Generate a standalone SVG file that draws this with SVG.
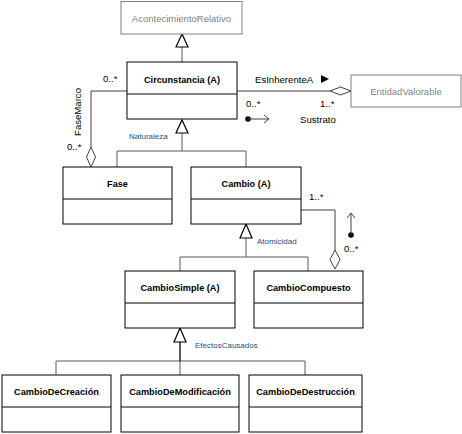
<svg xmlns="http://www.w3.org/2000/svg" width="462" height="434" viewBox="0 0 462 434">
<defs>
<style>
.box{fill:#fff;stroke:#000;stroke-width:1}
.gbox{fill:#fff;stroke:#7f7f7f;stroke-width:1}
.t{font-family:"Liberation Sans",Arial,sans-serif;font-size:9.2px;font-weight:bold;fill:#000;text-anchor:middle}
.gt{font-family:"Liberation Sans",Arial,sans-serif;font-size:9.5px;fill:#7f7f7f;text-anchor:middle}
.lbl{font-family:"Liberation Sans",Arial,sans-serif;font-size:9.6px;fill:#000}
.blue{font-family:"Liberation Sans",Arial,sans-serif;font-size:8px;fill:#1f4e79}
.ln{fill:none;stroke:#404040;stroke-width:1}
.gen{fill:none;stroke:#595959;stroke-width:1}
.tri{fill:#fff;stroke:#000;stroke-width:1.2}
.dia{fill:#fff;stroke:#404040;stroke-width:1}
</style>
</defs>
<rect width="462" height="434" fill="#fff"/>
<g id="connectors">
<path class="gen" d="M182,47 V62"/>
<polygon class="tri" points="182,34 176,47 188,47"/>
<path class="ln" d="M237,91 H330"/>
<polygon class="dia" points="330,91 340.5,87 351,91 340.5,95"/>
<path class="ln" d="M127,91 H91 V147"/>
<polygon class="dia" points="91,147 95.5,157 91,167 86.5,157"/>
<path class="gen" d="M182,133 V151 M117,151 H246 M117,151 V167 M246,151 V167"/>
<polygon class="tri" points="182,120 176,133 188,133"/>
<path class="ln" d="M301,210 H335 V250"/>
<polygon class="dia" points="335,250 340,259.5 335,269 330,259.5"/>
<path class="gen" d="M246,238 V257 M180,257 H308 M180,257 V271 M308,257 V271"/>
<polygon class="tri" points="246,224 240,238 252,238"/>
<path class="gen" d="M56,361 H305 M56,361 V375 M305,361 V375 M180,361 V375"/>
<path fill="none" stroke="#000" stroke-width="1.3" d="M180,342 V361"/>
<polygon class="tri" points="180,328 174,342 186,342"/>
<polygon points="321,75 329,79 321,83" fill="#000"/>
<circle cx="248" cy="119" r="2.8" fill="#000"/>
<path class="ln" d="M248,119 H269 M264,115 L269,119 L264,123"/>
<circle cx="351" cy="235" r="2.8" fill="#000"/>
<path class="ln" d="M351,235 V213 M347,218 L351,213 L355,218"/>
</g>
<g id="AcontecimientoRelativo">
<rect class="gbox" x="121" y="1.5" width="121" height="32.5"/>
<text class="gt" x="181.5" y="21.5">AcontecimientoRelativo</text>
</g>
<g id="Circunstancia">
<rect class="box" x="127" y="62" width="110" height="57"/>
<line class="box" x1="127" y1="94" x2="237" y2="94"/>
<text class="t" x="182" y="82.5">Circunstancia (A)</text>
</g>
<g id="EntidadValorable">
<rect class="gbox" x="351" y="75" width="110" height="32"/>
<text class="gt" x="406" y="94.5">EntidadValorable</text>
</g>
<g id="Fase">
<rect class="box" x="63" y="167" width="109" height="57"/>
<line class="box" x1="63" y1="199" x2="172" y2="199"/>
<text class="t" x="117.5" y="186.5">Fase</text>
</g>
<g id="Cambio">
<rect class="box" x="191" y="167" width="110" height="57"/>
<line class="box" x1="191" y1="199" x2="301" y2="199"/>
<text class="t" x="246" y="186.5">Cambio (A)</text>
</g>
<g id="CambioSimple">
<rect class="box" x="125" y="271" width="110" height="57"/>
<line class="box" x1="125" y1="303" x2="235" y2="303"/>
<text class="t" x="180" y="290.5">CambioSimple (A)</text>
</g>
<g id="CambioCompuesto">
<rect class="box" x="254" y="271" width="109" height="57"/>
<line class="box" x1="254" y1="303" x2="363" y2="303"/>
<text class="t" x="308.5" y="290.5">CambioCompuesto</text>
</g>
<g id="CambioDeCreacion">
<rect class="box" x="2" y="375" width="109" height="57"/>
<line class="box" x1="2" y1="407" x2="111" y2="407"/>
<text class="t" x="56.5" y="394.5">CambioDeCreación</text>
</g>
<g id="CambioDeModificacion">
<rect class="box" x="121" y="375" width="118" height="57"/>
<line class="box" x1="121" y1="407" x2="239" y2="407"/>
<text class="t" x="180" y="394.5">CambioDeModificación</text>
</g>
<g id="CambioDeDestruccion">
<rect class="box" x="249" y="375" width="113" height="57"/>
<line class="box" x1="249" y1="407" x2="362" y2="407"/>
<text class="t" x="305.5" y="394.5">CambioDeDestrucción</text>
</g>
<g id="labels">
<text class="lbl" x="255" y="82.5">EsInherenteA</text>
<text class="lbl" x="246" y="107">0..*</text>
<text class="lbl" x="320" y="107">1..*</text>
<text class="lbl" x="300" y="122.5">Sustrato</text>
<text class="lbl" x="103" y="82">0..*</text>
<text class="lbl" x="67" y="150">0..*</text>
<text class="lbl" transform="translate(81,112) rotate(-90)" text-anchor="middle">FaseMarco</text>
<text class="blue" x="129" y="139">Naturaleza</text>
<text class="lbl" x="309" y="200">1..*</text>
<text class="lbl" x="344" y="252">0..*</text>
<text class="blue" x="257" y="243.5">Atomicidad</text>
<text class="blue" x="195" y="348">EfectosCausados</text>
</g>
</svg>
